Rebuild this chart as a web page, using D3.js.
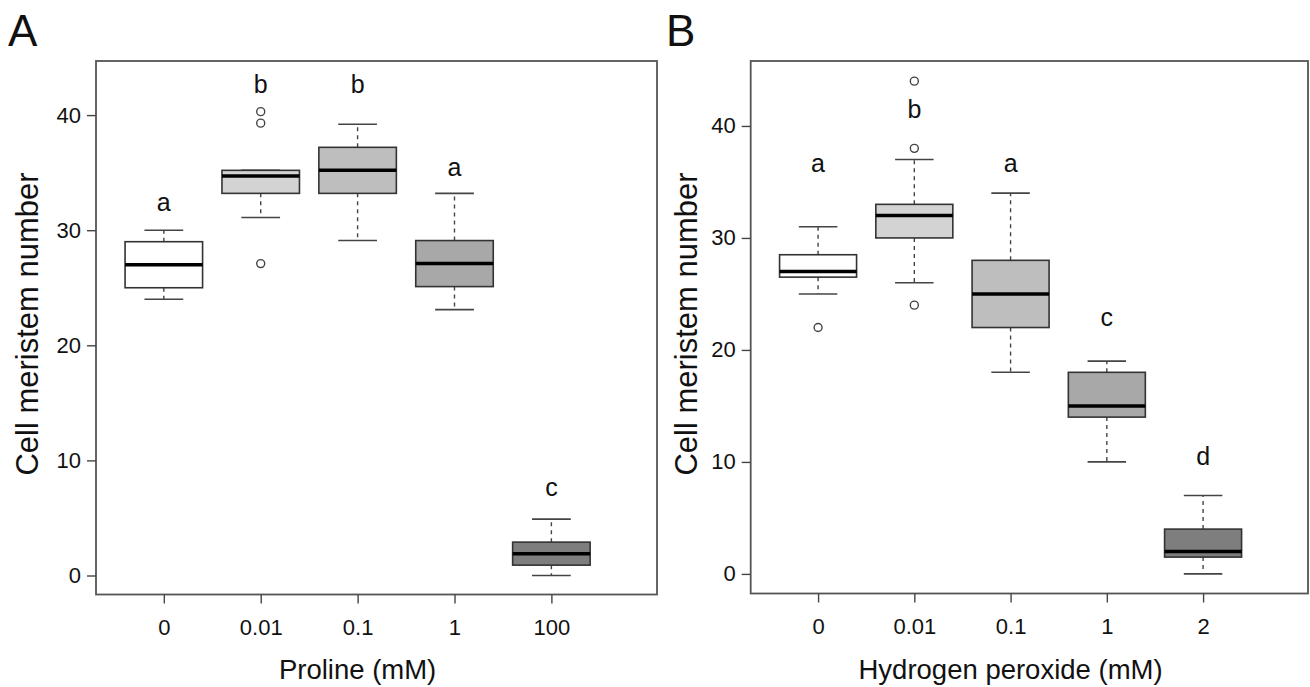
<!DOCTYPE html>
<html>
<head>
<meta charset="utf-8">
<script src="https://cdn.jsdelivr.net/npm/d3@7"></script>
<style>
  body { margin: 0; background: #fff; }
  svg { display: block; font-family: "Liberation Sans", Arial, sans-serif; }
</style>
</head>
<body>
<svg width="1310" height="687"></svg>
<script>
// ---- data: panel A (proline) ----
var prolineDoses = ["0", "0.01", "0.1", "1", "100"];
var prolineLow    = [24, 31.1, 29.1, 23.1, 0];
var prolineQ1     = [25, 33.2, 33.2, 25.1, 0.9];
var prolineMedian = [27, 34.7, 35.2, 27.1, 1.9];
var prolineQ3     = [29, 35.2, 37.2, 29.1, 2.9];
var prolineHigh   = [30, 35.2, 39.2, 33.2, 4.9];
var prolineOutliers = [[], [40.3, 39.3, 27.1], [], [], []];
var prolineLetters = ["a", "b", "b", "a", "c"];
var prolineLetterY = [31.7, 41.9, 41.9, 34.7, 6.9];

// ---- data: panel B (hydrogen peroxide) ----
var peroxideDoses = ["0", "0.01", "0.1", "1", "2"];
var peroxideLow    = [25, 26, 18, 10, 0];
var peroxideQ1     = [26.5, 30, 22, 14, 1.5];
var peroxideMedian = [27, 32, 25, 15, 2];
var peroxideQ3     = [28.5, 33, 28, 18, 4];
var peroxideHigh   = [31, 37, 34, 19, 7];
var peroxideOutliers = [[22], [44, 38, 24], [], [], []];
var peroxideLetters = ["a", "b", "a", "c", "d"];
var peroxideLetterY = [35.9, 40.7, 35.9, 22.1, 9.7];

var yTicks = [0, 10, 20, 30, 40];

var fills = ["#ffffff", "#d3d3d3", "#bebebe", "#a8a8a8", "#7e7e7e"];

var svg = d3.select("svg");

function drawPanel(p) {
    var x = d3.scaleLinear().domain([0.3, 6.09]).range([p.left, p.right]);
    var y = d3.scaleLinear().domain(p.yDomain).range([p.bottom, p.top]);
    var boxW = x(1.4) - x(1);   // half box width (0.4 units)
    var capW = boxW / 2;

    var g = svg.append("g");

    var rows = p.doses.map(function(d, i) {
        return { dose: d, i: i + 1, lo: p.low[i], q1: p.q1[i], med: p.median[i],
                 q3: p.q3[i], hi: p.high[i], out: p.outliers[i],
                 letter: p.letters[i], ly: p.letterY[i], fill: fills[i] };
    });

    // whiskers (dashed)
    g.selectAll(".wlo").data(rows).enter().append("line")
        .attr("x1", d => x(d.i)).attr("x2", d => x(d.i))
        .attr("y1", d => y(d.q1)).attr("y2", d => y(d.lo))
        .attr("stroke", "#444").attr("stroke-width", 1.4).attr("stroke-dasharray", "4,4");
    g.selectAll(".whi").data(rows).enter().append("line")
        .attr("x1", d => x(d.i)).attr("x2", d => x(d.i))
        .attr("y1", d => y(d.q3)).attr("y2", d => y(d.hi))
        .attr("stroke", "#444").attr("stroke-width", 1.4).attr("stroke-dasharray", "4,4");

    // caps
    ["lo", "hi"].forEach(function(k) {
        g.selectAll(".cap" + k).data(rows).enter().append("line")
            .attr("x1", d => x(d.i) - capW).attr("x2", d => x(d.i) + capW)
            .attr("y1", d => y(d[k])).attr("y2", d => y(d[k]))
            .attr("stroke", "#444").attr("stroke-width", 1.6);
    });

    // boxes
    g.selectAll(".box").data(rows).enter().append("rect")
        .attr("x", d => x(d.i) - boxW).attr("width", 2 * boxW)
        .attr("y", d => y(d.q3)).attr("height", d => y(d.q1) - y(d.q3))
        .attr("fill", d => d.fill).attr("stroke", "#333").attr("stroke-width", 1.6);

    // medians
    g.selectAll(".med").data(rows).enter().append("line")
        .attr("x1", d => x(d.i) - boxW).attr("x2", d => x(d.i) + boxW)
        .attr("y1", d => y(d.med)).attr("y2", d => y(d.med))
        .attr("stroke", "#000").attr("stroke-width", 3.5);

    // outliers
    rows.forEach(function(r) {
        g.selectAll(null).data(r.out).enter().append("circle")
            .attr("cx", x(r.i)).attr("cy", v => y(v)).attr("r", 4)
            .attr("fill", "none").attr("stroke", "#444").attr("stroke-width", 1.4);
    });

    // significance letters
    g.selectAll(".letter").data(rows).enter().append("text")
        .attr("x", d => x(d.i)).attr("y", d => y(d.ly))
        .attr("text-anchor", "middle").attr("font-size", 25).attr("fill", "#111")
        .text(d => d.letter);

    // frame
    g.append("rect")
        .attr("x", p.left).attr("y", p.top)
        .attr("width", p.right - p.left).attr("height", p.bottom - p.top)
        .attr("fill", "none").attr("stroke", "#555").attr("stroke-width", 1.8);

    // y axis
    var ya = g.append("g").attr("transform", "translate(" + p.left + ",0)")
        .call(d3.axisLeft(y).tickValues(yTicks).tickSize(9).tickPadding(6));
    ya.select(".domain").remove();
    ya.selectAll("line").attr("stroke", "#444").attr("stroke-width", 1.4);
    ya.selectAll("text").attr("font-size", 22).attr("fill", "#111")
        .attr("font-family", "Liberation Sans, Arial, sans-serif");

    // x axis
    var xa = g.append("g").attr("transform", "translate(0," + p.bottom + ")")
        .call(d3.axisBottom(x).tickValues([1, 2, 3, 4, 5])
            .tickFormat((v, i) => p.doses[i]).tickSize(9).tickPadding(16));
    xa.select(".domain").remove();
    xa.selectAll("line").attr("stroke", "#444").attr("stroke-width", 1.4);
    xa.selectAll("text").attr("font-size", 22).attr("fill", "#111")
        .attr("font-family", "Liberation Sans, Arial, sans-serif");

    // axis titles
    svg.append("text")
        .attr("x", x(3)).attr("y", 679)
        .attr("text-anchor", "middle").attr("font-size", 27.5).attr("fill", "#111")
        .text(p.xTitle);
    svg.append("text")
        .attr("transform", "translate(" + p.yTitleX + ",324) rotate(-90)")
        .attr("text-anchor", "middle").attr("font-size", 31).attr("fill", "#111")
        .text("Cell meristem number");

    // panel letter
    svg.append("text")
        .attr("x", p.tagX).attr("y", 46)
        .attr("font-size", 44).attr("fill", "#111")
        .text(p.tag);
}

drawPanel({
    left: 96, right: 657, top: 61, bottom: 594.5,
    yDomain: [-1.65, 44.7],
    doses: prolineDoses, low: prolineLow, q1: prolineQ1, median: prolineMedian,
    q3: prolineQ3, high: prolineHigh, outliers: prolineOutliers,
    letters: prolineLetters, letterY: prolineLetterY,
    xTitle: "Proline (mM)", yTitleX: 38, tag: "A", tagX: 8
});

drawPanel({
    left: 750.7, right: 1308, top: 61, bottom: 593.5,
    yDomain: [-1.75, 45.8],
    doses: peroxideDoses, low: peroxideLow, q1: peroxideQ1, median: peroxideMedian,
    q3: peroxideQ3, high: peroxideHigh, outliers: peroxideOutliers,
    letters: peroxideLetters, letterY: peroxideLetterY,
    xTitle: "Hydrogen peroxide (mM)", yTitleX: 697, tag: "B", tagX: 666
});
</script>
</body>
</html>
